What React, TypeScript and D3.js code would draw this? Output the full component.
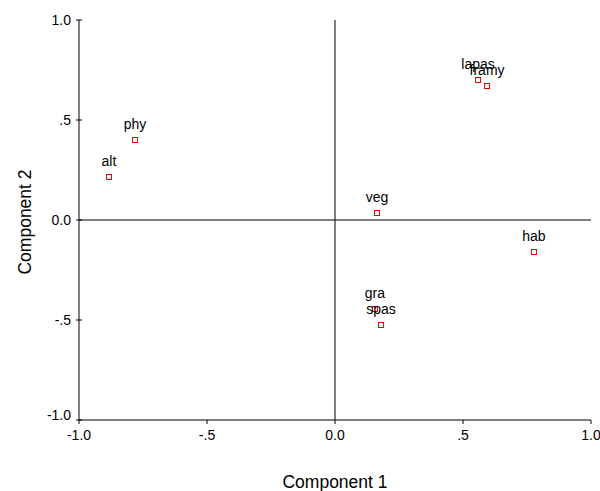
import React from 'react'
import { scaleLinear } from 'd3'

// Data
const labels = ['alt', 'phy', 'veg', 'lapas', 'framy', 'hab', 'gra', 'spas']
const comp1 = [-0.883, -0.781, 0.164, 0.559, 0.594, 0.777, 0.156, 0.18]
const comp2 = [0.215, 0.4, 0.035, 0.7, 0.67, -0.16, -0.445, -0.525]
const ticks = [-1, -0.5, 0, 0.5, 1]
const tickLabels = ['-1.0', '-.5', '0.0', '.5', '1.0']

const W = 600
const H = 491
const font = 'Arial, "Liberation Sans", sans-serif'

const App = () => {
    const x = scaleLinear().domain([-1, 1]).range([79, 591])
    const y = scaleLinear().domain([-1, 1]).range([420, 20])

    return (
        <svg width={W} height={H} style={{ position: 'absolute', left: 0, top: 0, background: '#fff' }}
            fontFamily={font}>
            {/* reference lines */}
            <line x1={x(-1)} x2={x(1)} y1={y(0)} y2={y(0)} stroke="#000" strokeWidth={1} />
            <line x1={x(0)} x2={x(0)} y1={y(-1)} y2={y(1)} stroke="#000" strokeWidth={1} />

            {/* axes */}
            <line x1={x(-1)} x2={x(-1)} y1={y(-1)} y2={y(1)} stroke="#000" />
            <line x1={x(-1)} x2={x(1)} y1={y(-1)} y2={y(-1)} stroke="#000" />

            {ticks.map((t, i) => (
                <g key={'y' + i}>
                    <line x1={x(-1) - 3} x2={x(-1) + 3} y1={y(t)} y2={y(t)} stroke="#000" />
                    <text x={x(-1) - 8} y={y(t) + (t === -1 ? -5 : 0)} dy="0.35em" textAnchor="end" fontSize={14}>
                        {tickLabels[i]}
                    </text>
                </g>
            ))}
            {ticks.map((t, i) => (
                <g key={'x' + i}>
                    <line x1={x(t)} x2={x(t)} y1={y(-1)} y2={y(-1) + 4} stroke="#000" />
                    <text x={x(t)} y={y(-1) + 20} textAnchor="middle" fontSize={14}>
                        {tickLabels[i]}
                    </text>
                </g>
            ))}

            {/* points */}
            {labels.map((lab, i) => (
                <g key={lab}>
                    <rect x={x(comp1[i]) - 2.5} y={y(comp2[i]) - 2.5} width={5} height={5}
                        fill="#fff" stroke="#e00000" strokeWidth={1} />
                    <text x={x(comp1[i])} y={y(comp2[i]) - 11} textAnchor="middle" fontSize={14}>
                        {lab}
                    </text>
                </g>
            ))}

            {/* axis titles */}
            <text x={x(0)} y={488} textAnchor="middle" fontSize={17.5}>Component 1</text>
            <text transform={`translate(31, ${y(0) + 2}) rotate(-90)`} textAnchor="middle" fontSize={17.5}>
                Component 2
            </text>
        </svg>
    )
}

export default App
